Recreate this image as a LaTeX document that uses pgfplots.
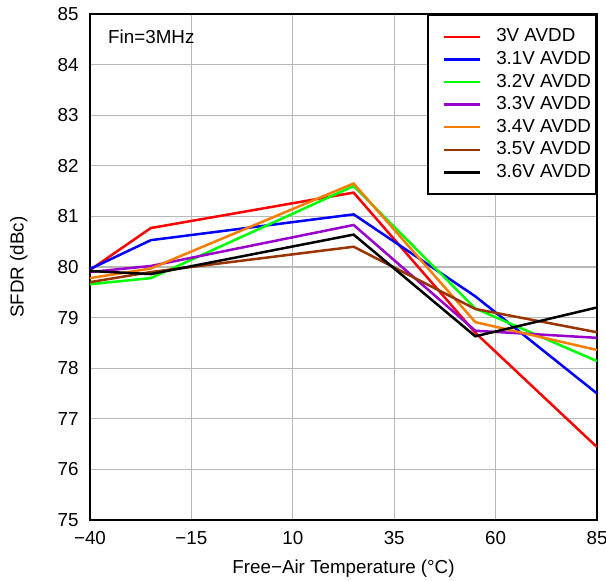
\documentclass[border=0pt]{standalone}
\usepackage{fontspec}
\setmainfont{Liberation Sans}
\usepackage{pgfplots}
\pgfplotsset{compat=1.18}
\definecolor{cpurple}{RGB}{153,0,204}
\definecolor{corange}{RGB}{245,125,0}
\definecolor{cbrown}{RGB}{153,51,0}
\pgfplotstableread{
x     r      b      g      p      o      br     k
-40   79.94  79.96  79.66  79.90  79.78  79.70  79.92
-25   80.77  80.53  79.78  80.02  79.97  79.90  79.86
25    81.47  81.04  81.60  80.83  81.65  80.40  80.64
55    78.70  79.42  79.18  78.74  78.91  79.17  78.63
85    76.44  77.50  78.14  78.60  78.36  78.71  79.20
}\datatable
\begin{document}
\fontsize{9.4}{11}\selectfont
\begin{tikzpicture}
\useasboundingbox (-45pt,-30.5pt) rectangle (258pt,260pt);
\begin{axis}[
  scale only axis, width=253.5pt, height=253pt,
  font=\fontsize{9.4}{11}\selectfont,
  xmin=-40, xmax=85, ymin=75, ymax=85,
  xtick={-40,-15,10,35,60,85},
  xticklabels={−40,−15,10,35,60,85},
  ytick={75,76,...,85},
  /pgf/number format/assume math mode=true,
  grid=major,
  major grid style={line width=0.6pt, color=black!28},
  major tick length=0pt,
  axis line style={line width=1pt},
  yticklabel style={inner sep=0pt, xshift=-5.5pt},
  xticklabel style={inner sep=0pt, yshift=-5.5pt},
  xlabel={Free−Air Temperature (°C)},
  xlabel style={at={(axis description cs:0.5,-0.078)}, anchor=north, inner sep=0pt},
  ylabel={SFDR (dBc)},
  ylabel style={at={(axis description cs:-0.1223,0.5)}, anchor=south, inner sep=0pt},
  legend cell align=left,
  legend style={at={(1,1)}, anchor=north east, draw=black, line width=1pt, fill=white,
    inner xsep=2.5pt, inner ysep=6.5pt, row sep=2.5pt, column sep=7.5pt,
    nodes={inner sep=0pt, text height=7pt, text depth=1.8pt},
    font=\fontsize{9.4}{11}\selectfont},
  legend image code/.code={\path (-5pt,0pt); \draw[#1] (0pt,0pt) -- (18pt,0pt);},
  every axis plot/.append style={line width=1.25pt, no markers},
]
\addplot[color=red] table[x=x,y=r] {\datatable};
\addlegendentry{3V AVDD}
\addplot[color=blue] table[x=x,y=b] {\datatable};
\addlegendentry{3.1V AVDD}
\addplot[color=green] table[x=x,y=g] {\datatable};
\addlegendentry{3.2V AVDD}
\addplot[color=cpurple] table[x=x,y=p] {\datatable};
\addlegendentry{3.3V AVDD}
\addplot[color=corange] table[x=x,y=o] {\datatable};
\addlegendentry{3.4V AVDD}
\addplot[color=cbrown] table[x=x,y=br] {\datatable};
\addlegendentry{3.5V AVDD}
\addplot[color=black] table[x=x,y=k] {\datatable};
\addlegendentry{3.6V AVDD}
\node[anchor=west, inner sep=0pt] at (axis cs:-35.6,84.55) {Fin=3MHz};
\end{axis}
\end{tikzpicture}
\end{document}
